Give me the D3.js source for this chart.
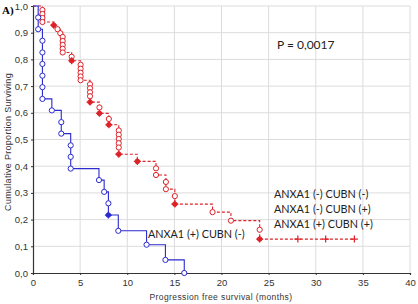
<!DOCTYPE html>
<html lang="en">
<head>
    <title>PFS Kaplan-Meier</title>
    <script src="https://cdn.jsdelivr.net/npm/d3@7"></script>
    <style>
        body { margin: 0; background: #fff; }
        .tick-label { font-family: "Liberation Sans", Arial, sans-serif; font-size: 9.5px; fill: #333; }
        .grid line { stroke: #dcdcdc; stroke-width: 1; }
        .note { font-family: Lato, "Open Sans", sans-serif; fill: #222; }
    </style>
</head>
<body>

<script>
    // x ticks / y ticks
    const xTicks = [0, 5, 10, 15, 20, 25, 30, 35, 40];
    const yTicks = [0, 0.1, 0.2, 0.3, 0.4, 0.5, 0.6, 0.7, 0.8, 0.9, 1.0];

    // ANXA1 (+) CUBN (-) : time, survival, marker (o = event, f = censored+event, p = censored)
    const blueTime = [0, 0.55, 0.55, 1, 1, 1, 1, 1, 1, 2, 3, 3, 4, 4, 4, 7, 7.55, 8, 8, 9.05, 12.05, 14.05, 16.05];
    const blueSurv = [1, 0.957, 0.913, 0.87, 0.826, 0.783, 0.739, 0.696, 0.652, 0.609, 0.565, 0.522, 0.478, 0.435, 0.391, 0.348, 0.304, 0.261, 0.217, 0.158, 0.106, 0.049, 0];
    const blueMark = ["", "o", "o", "o", "o", "o", "o", "o", "o", "o", "o", "o", "o", "o", "o", "o", "o", "o", "f", "o", "o", "o", "o"];

    // remaining three groups, plotted as one red dashed curve
    const redTime = [0, 1, 1, 1, 1, 2.2, 2.6, 2.9, 3.15, 3.15, 3.15, 3.15, 3.15, 4.1, 4.1,
        5.05, 5.05, 5.05, 5.05, 5.05, 6.05, 6.05, 6.05, 6.05, 6.05, 7.05, 7.05, 8.05, 8.05,
        9.1, 9.1, 9.1, 9.1, 9.1, 9.1, 11.07, 13.05, 13.05, 14.1, 14.1, 15.05, 15.05,
        19.05, 21, 24.05, 24.05, 28.1, 31.05, 34.1];
    const redSurv = [1, 0.985, 0.97, 0.955, 0.94, 0.928, 0.913, 0.898, 0.884, 0.869, 0.854, 0.84, 0.826, 0.81, 0.795,
        0.78, 0.765, 0.75, 0.736, 0.722, 0.707, 0.692, 0.677, 0.662, 0.64, 0.62, 0.598, 0.577, 0.555,
        0.534, 0.518, 0.502, 0.486, 0.47, 0.445, 0.418, 0.392, 0.367, 0.341, 0.314, 0.288, 0.258,
        0.228, 0.196, 0.162, 0.127, 0.127, 0.127, 0.127];
    const redMark = ["", "o", "o", "o", "o", "f", "o", "o", "o", "o", "o", "o", "o", "o", "f",
        "o", "o", "o", "o", "o", "o", "o", "o", "o", "f", "o", "f", "o", "f",
        "o", "o", "o", "o", "o", "f", "f", "o", "o", "o", "o", "o", "f",
        "o", "o", "o", "f", "p", "p", "p"];

    const groupLabels = ["ANXA1 (-) CUBN (-)", "ANXA1 (-) CUBN (+)", "ANXA1 (+) CUBN (+)"];
    const blueLabel = "ANXA1 (+) CUBN (-)";
    const pText = "P = 0,0017";

    const blue = "#2b2bd0", red = "#dd2228";

    const svg = d3.select("body").append("svg").attr("width", 418).attr("height", 304);

    const x = d3.scaleLinear().domain([0, 40]).range([33, 410]);
    const y = d3.scaleLinear().domain([0, 1]).range([273, 6]);

    // grid
    const grid = svg.append("g").attr("class", "grid");
    grid.selectAll(".gx").data(xTicks.slice(1)).join("line")
        .attr("x1", d => x(d)).attr("x2", d => x(d))
        .attr("y1", y(0)).attr("y2", y(1));
    grid.selectAll(".gy").data(yTicks.slice(1)).join("line")
        .attr("x1", x(0)).attr("x2", x(40))
        .attr("y1", d => y(d)).attr("y2", d => y(d));

    // axes
    const fmt = d => d3.format(".1f")(d).replace(".", ",");
    const xAxis = svg.append("g").attr("transform", `translate(0,${y(0)})`)
        .call(d3.axisBottom(x).tickValues(xTicks).tickSize(2).tickPadding(4));
    const yAxis = svg.append("g").attr("transform", `translate(${x(0)},0)`)
        .call(d3.axisLeft(y).tickValues(yTicks).tickFormat(fmt).tickSize(2).tickPadding(3));
    [xAxis, yAxis].forEach(a => {
        a.select(".domain").attr("stroke", "#333").attr("stroke-width", 1.2);
        a.selectAll(".tick line").attr("stroke", "#333");
        a.selectAll("text").attr("class", "tick-label").attr("fill", null);
    });

    svg.append("text").attr("class", "tick-label")
        .attr("x", 221).attr("y", 300).attr("text-anchor", "middle")
        .style("font-size", "8.5px").style("letter-spacing", "0.4px")
        .text("Progression free survival (months)");
    svg.append("text").attr("class", "tick-label")
        .attr("transform", "translate(11,142) rotate(-90)").attr("text-anchor", "middle")
        .style("font-size", "9px").style("letter-spacing", "0.3px")
        .text("Cumulative Proportion Surviving");

    svg.append("text").attr("x", 2).attr("y", 14)
        .style("font-family", "'Liberation Serif', serif").style("font-weight", "bold").style("font-size", "11px")
        .text("A)");

    const stepLine = d3.line().x(d => x(d[0])).y(d => y(d[1])).curve(d3.curveStepAfter);

    function drawCurve(times, surv, marks, color, dash) {
        const pts = times.map((t, i) => [t, surv[i], marks[i]]);
        svg.append("path").datum(pts)
            .attr("d", stepLine).attr("fill", "none")
            .attr("stroke", color).attr("stroke-width", 1.1)
            .attr("stroke-dasharray", dash);
        const g = svg.append("g");
        pts.filter(p => p[2] === "o").forEach(p => {
            g.append("circle").attr("cx", x(p[0])).attr("cy", y(p[1])).attr("r", 2.6)
                .attr("fill", "#fff").attr("stroke", color).attr("stroke-width", 1);
        });
        pts.filter(p => p[2] === "f").forEach(p => {
            g.append("circle").attr("cx", x(p[0])).attr("cy", y(p[1])).attr("r", 2.3)
                .attr("fill", color).attr("stroke", color).attr("stroke-width", 1);
        });
        pts.filter(p => p[2] === "f" || p[2] === "p").forEach(p => {
            g.append("path")
                .attr("d", `M${x(p[0]) - 3.5},${y(p[1])}h7M${x(p[0])},${y(p[1]) - 3.5}v7`)
                .attr("stroke", color).attr("stroke-width", 1.2);
        });
    }

    drawCurve(redTime, redSurv, redMark, red, "3,2");
    drawCurve(blueTime, blueSurv, blueMark, blue, null);

    svg.append("text").attr("class", "note").attr("x", 277).attr("y", 49)
        .style("font-size", "12px").text(pText);
    svg.append("g").selectAll("text").data(groupLabels).join("text")
        .attr("class", "note").attr("x", 274).attr("y", (d, i) => 198 + i * 15)
        .style("font-size", "10.8px").text(d => d);
    svg.append("text").attr("class", "note").attr("x", 148).attr("y", 238)
        .style("font-size", "10.8px").text(blueLabel);
</script>

</body>
</html>
